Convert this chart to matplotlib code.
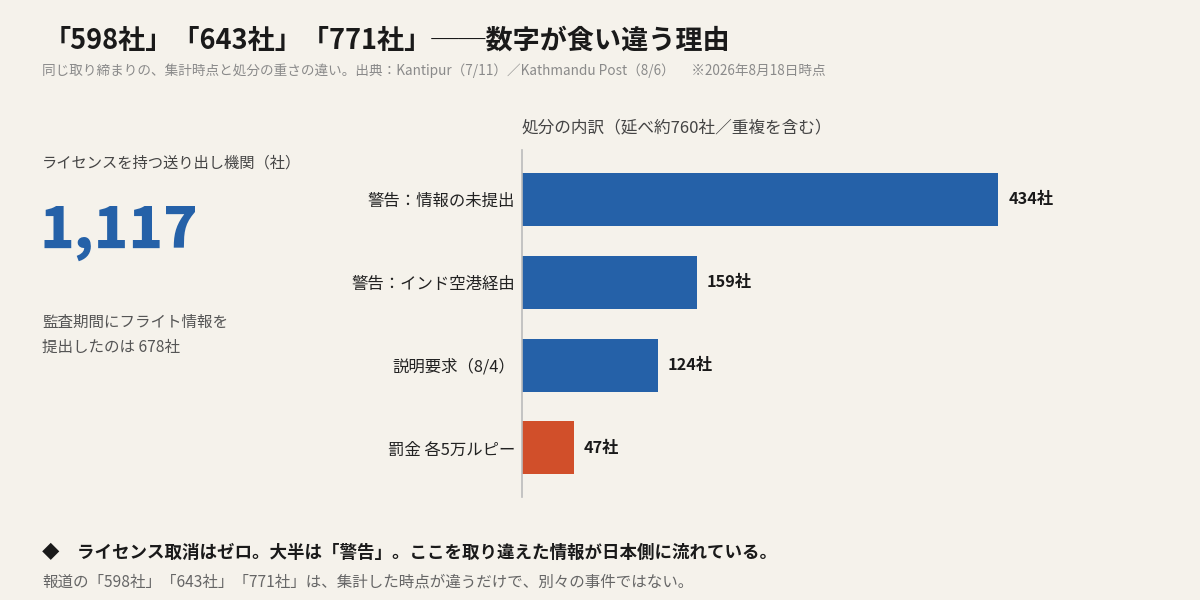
import matplotlib
matplotlib.use("Agg")
import matplotlib.pyplot as plt

plt.rcParams['font.family'] = ['Noto Sans CJK JP', 'DejaVu Sans']

# data
categories = ["警告：情報の未提出", "警告：インド空港経由", "説明要求（8/4）", "罰金 各5万ルピー"]
counts = [434, 159, 124, 47]
bar_colors = ["#2561a8", "#2561a8", "#2561a8", "#d14f2a"]
licensed_total = "1,117"
submitted = 678

bg = "#f5f2eb"
fig = plt.figure(figsize=(12, 6), dpi=100, facecolor=bg)

# header
fig.text(0.036, 0.933, "「598社」「643社」「771社」──数字が食い違う理由",
         fontsize=19.5, fontweight="bold", color="#1a1a1a", va="center")
fig.text(0.035, 0.882,
         "同じ取り締まりの、集計時点と処分の重さの違い。出典：Kantipur（7/11）／Kathmandu Post（8/6）　 ※2026年8月18日時点",
         fontsize=9.8, color="#8a8a8a", va="center")

# left KPI block
fig.text(0.035, 0.728, "ライセンスを持つ送り出し機関（社）", fontsize=11, color="#444444", va="center")
fig.text(0.033, 0.612, licensed_total, fontsize=41, fontweight="heavy", color="#2561a8", va="center")
fig.text(0.035, 0.462, "監査期間にフライト情報を", fontsize=11.2, color="#555555", va="center")
fig.text(0.035, 0.422, f"提出したのは {submitted}社", fontsize=11.2, color="#555555", va="center")

# bar chart
ax = fig.add_axes([0.435, 0.172, 0.525, 0.578])
ax.set_facecolor(bg)
y = list(range(len(categories)))
ax.barh(y, counts, height=0.64, color=bar_colors)
ax.set_xlim(0, 574)
ax.set_ylim(3.59, -0.596)
for i, v in enumerate(counts):
    ax.text(v + 9, i, f"{v}社", fontsize=11.7, fontweight="bold", color="#1a1a1a", va="center")
ax.set_yticks(y)
ax.set_yticklabels(categories, fontsize=11.8, color="#222222")
ax.tick_params(axis="y", length=0, pad=5)
ax.set_xticks([])
for s in ["top", "right", "bottom"]:
    ax.spines[s].set_visible(False)
ax.spines["left"].set_color("#bbbbbb")
ax.spines["left"].set_linewidth(1.2)

fig.text(0.435, 0.787, "処分の内訳（延べ約760社／重複を含む）", fontsize=12, color="#444444", va="center")

# footer
fig.text(0.035, 0.078, "◆　ライセンス取消はゼロ。大半は「警告」。ここを取り違えた情報が日本側に流れている。",
         fontsize=12.6, fontweight="bold", color="#1a1a1a", va="center")
fig.text(0.035, 0.03, "報道の「598社」「643社」「771社」は、集計した時点が違うだけで、別々の事件ではない。",
         fontsize=11.2, color="#666666", va="center")

fig.savefig("out.png", dpi=100, facecolor=bg)
